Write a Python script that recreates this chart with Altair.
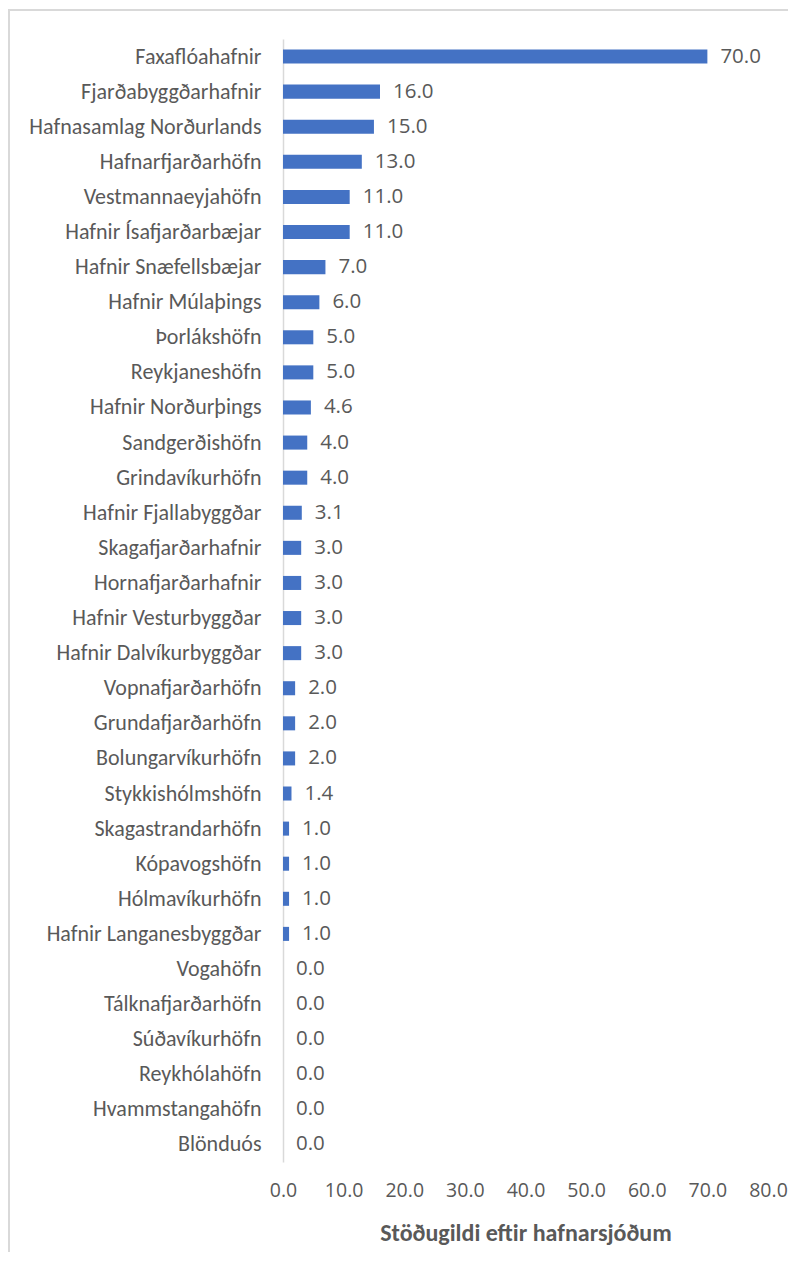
import altair as alt
import pandas as pd

categories = [
    "Faxaflóahafnir", "Fjarðabyggðarhafnir", "Hafnasamlag Norðurlands", "Hafnarfjarðarhöfn",
    "Vestmannaeyjahöfn", "Hafnir Ísafjarðarbæjar", "Hafnir Snæfellsbæjar", "Hafnir Múlaþings",
    "Þorlákshöfn", "Reykjaneshöfn", "Hafnir Norðurþings", "Sandgerðishöfn", "Grindavíkurhöfn",
    "Hafnir Fjallabyggðar", "Skagafjarðarhafnir", "Hornafjarðarhafnir", "Hafnir Vesturbyggðar",
    "Hafnir Dalvíkurbyggðar", "Vopnafjarðarhöfn", "Grundafjarðarhöfn", "Bolungarvíkurhöfn",
    "Stykkishólmshöfn", "Skagastrandarhöfn", "Kópavogshöfn", "Hólmavíkurhöfn",
    "Hafnir Langanesbyggðar", "Vogahöfn", "Tálknafjarðarhöfn", "Súðavíkurhöfn",
    "Reykhólahöfn", "Hvammstangahöfn", "Blönduós",
]
values = [
    70.0, 16.0, 15.0, 13.0, 11.0, 11.0, 7.0, 6.0, 5.0, 5.0, 4.6, 4.0, 4.0, 3.1, 3.0, 3.0,
    3.0, 3.0, 2.0, 2.0, 2.0, 1.4, 1.0, 1.0, 1.0, 1.0, 0.0, 0.0, 0.0, 0.0, 0.0, 0.0,
]
x_ticks = [0, 10, 20, 30, 40, 50, 60, 70, 80]
title_text = "Stöðugildi eftir hafnarsjóðum"

df = pd.DataFrame({"name": categories, "value": values})

W, H = 485, 1123
LABEL_FONT = "Carlito, sans-serif"
NUM_FONT = "Open Sans, sans-serif"
GRAY = "#595959"

y_enc = alt.Y("name:N", sort=categories, title=None,
              scale=alt.Scale(paddingInner=0.6, paddingOuter=0.3),
              axis=alt.Axis(domain=True, domainColor="#d9d9d9", domainWidth=1.5, ticks=False,
                            labelFont=LABEL_FONT, labelFontSize=22, labelColor=GRAY,
                            labelPadding=22, labelLimit=300))
x_enc = alt.X("value:Q", title=title_text,
              scale=alt.Scale(domain=[0, 80], nice=False),
              axis=alt.Axis(values=x_ticks, format=".1f", grid=False, domain=False, ticks=False,
                            labelFont=NUM_FONT, labelFontSize=19.5, labelColor=GRAY,
                            labelPadding=19, titleFont=LABEL_FONT, titleFontSize=24,
                            titleFontWeight="bold", titleColor=GRAY, titlePadding=22,
                            labelFlush=False))

bars = alt.Chart(df).mark_bar(color="#4472C4").encode(y=y_enc, x=x_enc)
labels = alt.Chart(df).mark_text(align="left", baseline="middle", dx=13, font=NUM_FONT,
                                 fontSize=20.5, color=GRAY).encode(
    y=alt.Y("name:N", sort=categories),
    x=alt.X("value:Q"),
    text=alt.Text("value:Q", format=".1f"),
)
frame = alt.Chart(df).mark_rect(fill=None, stroke="#d9d9d9", strokeWidth=1.5).encode(
    x=alt.value(-274), x2=alt.value(W + 60), y=alt.value(-29), y2=alt.value(H + 200)
)

chart = alt.layer(frame, bars, labels).properties(
    width=W, height=H,
    autosize=alt.AutoSizeParams(type="none"),
    padding={"left": 275, "top": 31, "right": 20, "bottom": 90},
).configure(background="white").configure_view(stroke=None)

chart.save("out.html", embed_options={"renderer": "svg", "actions": False})
